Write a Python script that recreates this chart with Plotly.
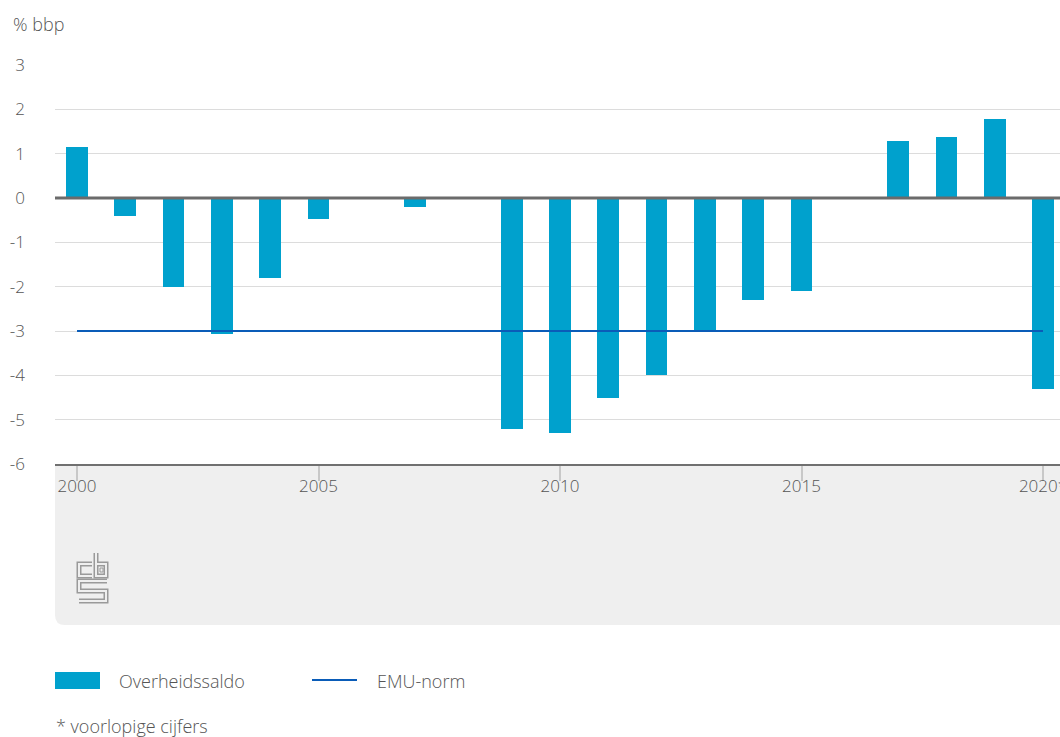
import plotly.graph_objects as go

# ---- data ----
years = list(range(2000, 2021))
saldo = [1.15, -0.4, -2.0, -3.07, -1.8, -0.48, 0.0, -0.2, 0.0, -5.2, -5.3,
         -4.5, -4.0, -3.0, -2.3, -2.1, 0.0, 1.28, 1.37, 1.78, -4.3]
emu_years = [2000, 2020]
emu_values = [-3, -3]
xtick_vals = [2000, 2005, 2010, 2015, 2020]
xtick_text = ["2000", "2005", "2010", "2015", "2020*"]
ytick_vals = [-6, -5, -4, -3, -2, -1, 0, 1, 2, 3]
ytick_text = ["-6", "-5", "-4", "-3", "-2", "-1", "0", "1", "2", "3"]
series_names = ["Overheidssaldo", "EMU-norm"]
unit_label = "% bbp"
footnote = "* voorlopige cijfers"

# ---- layout geometry (pixels) ----
W, H = 1060, 737
ML, MR, MT, MB = 55, 0, 65, 273
PW = W - ML - MR
PH = H - MT - MB

def px(xp):
    return (xp - ML) / PW

def py(yp):
    return (H - MB - yp) / PH

BAR = "#00a1cd"
EMU = "#0a5cb8"
TXT = "#555555"
FONT = "Open Sans"
FS = 18

fig = go.Figure()
fig.add_trace(go.Bar(x=years, y=saldo, width=0.45, name=series_names[0],
                     marker=dict(color=BAR, line=dict(width=0)),
                     showlegend=False, hoverinfo="x+y"))
fig.add_trace(go.Scatter(x=emu_years, y=emu_values, mode="lines", name=series_names[1],
                         line=dict(color=EMU, width=2), showlegend=False))

shapes = []
# grey footer panel with rounded bottom-left corner (pixel path anchored at plot bottom-left)
shapes.append(dict(type="path", xref="paper", yref="paper", xsizemode="pixel", ysizemode="pixel",
                   xanchor=0, yanchor=0,
                   path="M 0,0 L 1010,0 L 1010,-161 L 10,-161 Q 0,-161 0,-151 Z",
                   fillcolor="#efefef", line=dict(width=0), layer="below"))
# zero line on top of the bars
shapes.append(dict(type="line", xref="paper", yref="y", x0=0, x1=1, y0=0, y1=0,
                   line=dict(color="#6b6b6b", width=3), layer="above"))

# CBS logo (outlined strokes)
def logo_path(pts):
    return "M " + " L ".join(f"{x - ML},{(H - MB) - y}" for x, y in pts)

logo_strokes = [
    [(92, 564), (79, 564), (79, 576), (92, 576)],
    [(96, 553), (96, 576), (106, 576), (106, 564), (96, 564)],
    [(107, 581), (79, 581), (79, 591), (106, 591), (106, 601), (79, 601)],
]
for pts in logo_strokes:
    for col, w in (("#9a9a9a", 5), ("#efefef", 2)):
        shapes.append(dict(type="path", xref="paper", yref="paper", xsizemode="pixel",
                           ysizemode="pixel", xanchor=0, yanchor=0, path=logo_path(pts),
                           line=dict(color=col, width=w), layer="above"))
shapes.append(dict(type="rect", xref="paper", yref="paper", xsizemode="pixel", ysizemode="pixel",
                   xanchor=0, yanchor=0, x0=100 - ML, x1=103 - ML,
                   y0=(H - MB) - 568, y1=(H - MB) - 572,
                   line=dict(color="#9a9a9a", width=1), fillcolor="#efefef"))

# manual legend
shapes.append(dict(type="rect", xref="paper", yref="paper", x0=px(55), x1=px(100),
                   y0=py(672), y1=py(689), fillcolor=BAR, line=dict(width=0)))
shapes.append(dict(type="line", xref="paper", yref="paper", x0=px(312), x1=px(357),
                   y0=py(680), y1=py(680), line=dict(color=EMU, width=2)))
fig.update_layout(shapes=shapes)

ann = [
    dict(text=unit_label, x=px(11), y=py(24), xanchor="left", yanchor="middle"),
    dict(text=series_names[0], x=px(117), y=py(681), xanchor="left", yanchor="middle"),
    dict(text=series_names[1], x=px(375), y=py(681), xanchor="left", yanchor="middle"),
    dict(text=footnote, x=px(54), y=py(726), xanchor="left", yanchor="middle"),
]
for a in ann:
    a.update(xref="paper", yref="paper", showarrow=False,
             font=dict(family=FONT, size=FS, color=TXT, weight=300))
fig.update_layout(annotations=ann)

fig.update_layout(
    width=W, height=H,
    margin=dict(l=ML, r=MR, t=MT, b=MB, pad=0),
    plot_bgcolor="white", paper_bgcolor="white",
    bargap=0, showlegend=False,
    font=dict(family=FONT, size=FS, color=TXT, weight=300),
    xaxis=dict(range=[1999.544, 2020.352], tickvals=xtick_vals, ticktext=xtick_text,
               ticks="outside", ticklen=15, tickcolor="#c8c8c8", tickwidth=1.5,
               ticklabelstandoff=-9, ticklabeloverflow="allow",
               showgrid=False, showline=True, linecolor="#707070", linewidth=2,
               zeroline=False, automargin=False, fixedrange=True,
               tickfont=dict(family=FONT, size=FS - 1, color=TXT, weight=300)),
    yaxis=dict(range=[-6, 3], tickvals=ytick_vals, ticktext=ytick_text,
               showgrid=True, gridcolor="#dcdcdc",
               gridwidth=1, zeroline=False, ticks="", ticklabelstandoff=29,
               automargin=False, fixedrange=True,
               tickfont=dict(family=FONT, size=FS - 1, color=TXT, weight=300)),
)

fig.write_html("out.html", config={"displayModeBar": False},
               post_script="document.body.style.margin='0px';")
